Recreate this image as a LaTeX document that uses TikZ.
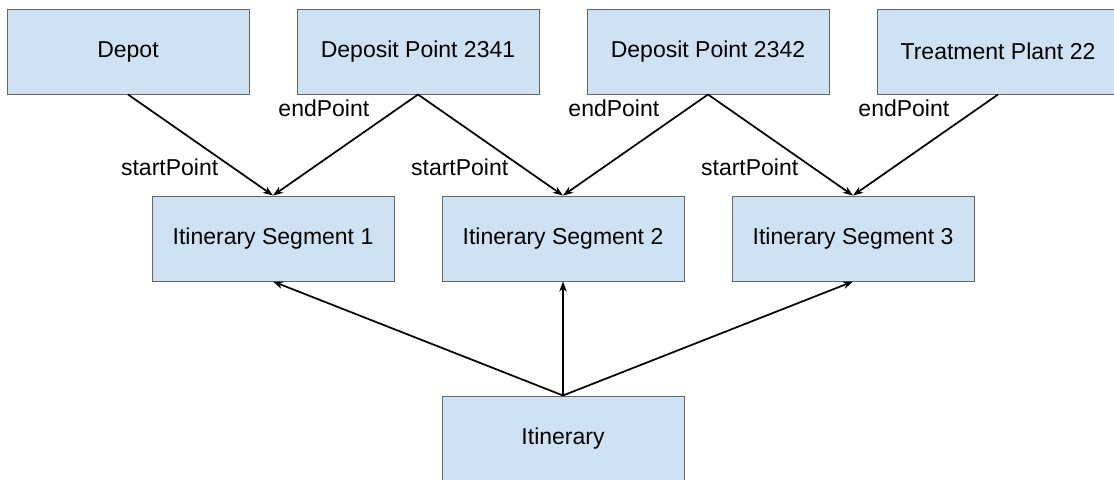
\documentclass[tikz,border=0pt]{standalone}
\usepackage{fontspec}
\setmainfont{Liberation Sans}
\usetikzlibrary{arrows.meta}
\definecolor{box-blue}{HTML}{CFE2F3}
\definecolor{box-edge}{HTML}{666666}

\begin{document}
\begin{tikzpicture}[x=0.75pt, y=-0.75pt,
      every node/.style={font=\fontsize{17.25}{20}\selectfont},
      entity/.style={draw=box-edge, fill=box-blue, line width=0.75pt,
          minimum width=181.5pt, minimum height=63.75pt, inner sep=0pt},
      link/.style={-{Stealth[length=7.5pt, width=5.5pt, inset=2.2pt]}, line width=1.3pt},
      role/.style={inner sep=0pt}]
    % page frame: the plant box and the itinerary box run past the edges
    \useasboundingbox[fill=white] (0,0) rectangle (1114,479);
    \clip (0,0) rectangle (1114,479);

    % places
    \node[entity] (depot) at (128,51.5) {Depot};
    \node[entity] (dp2341) at (418,51.5) {Deposit Point 2341};
    \node[entity] (dp2342) at (708,51.5) {Deposit Point 2342};
    \node[entity] (plant) at (998,51.5) {Treatment Plant 22};

    % segments, each one sits between its two places
    \node[entity] (seg1) at (273,238.5) {Itinerary Segment 1};
    \node[entity] (seg2) at (563,238.5) {Itinerary Segment 2};
    \node[entity] (seg3) at (853,238.5) {Itinerary Segment 3};

    \node[entity] (itin) at (563,438.5) {Itinerary};

    % start / end references -- labels hang left of their arrow
    \draw[link] (depot.south) -- node[role, pos=.725, left=10.5pt] (sp1) {startPoint} (seg1.north);
    \draw[link] (dp2341.south) -- node[role, pos=.137, left=21pt] (ep1) {endPoint} (seg1.north);
    \draw[link] (dp2341.south) -- node[role, pos=.725, left=10.5pt] (sp2) {startPoint} (seg2.north);
    \draw[link] (dp2342.south) -- node[role, pos=.137, left=21pt] (ep2) {endPoint} (seg2.north);
    \draw[link] (dp2342.south) -- node[role, pos=.725, left=10.5pt] (sp3) {startPoint} (seg3.north);
    \draw[link] (plant.south) -- node[role, pos=.137, left=21pt] (ep3) {endPoint} (seg3.north);

    % itinerary -> its segments
    \foreach \s in {seg1,seg2,seg3} {
      \draw[link] (itin.north) -- (\s.south);
    }
\end{tikzpicture}
\end{document}
